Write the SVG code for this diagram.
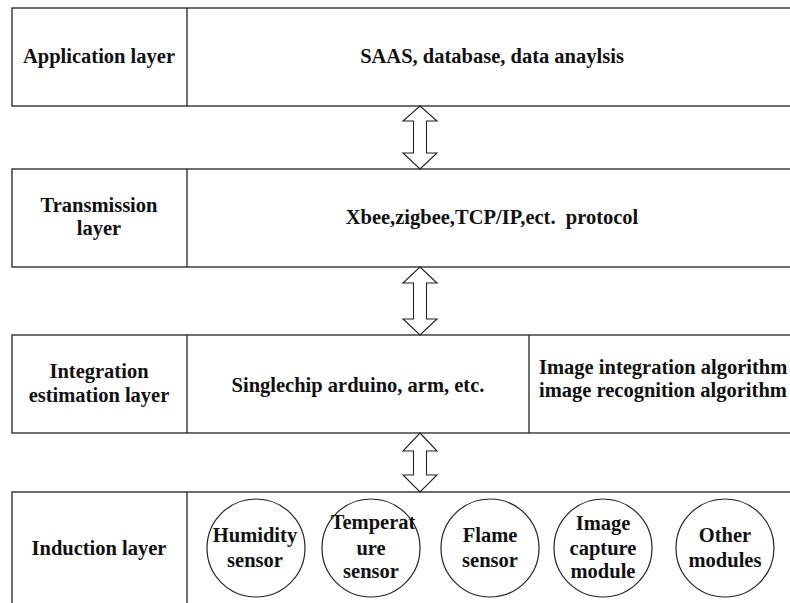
<svg xmlns="http://www.w3.org/2000/svg" width="790" height="603" viewBox="0 0 790 603">
<style>
.box{fill:#fff;stroke:#222;stroke-width:1.3}
.div{stroke:#222;stroke-width:1.3}
.arr{fill:#fff;stroke:#222;stroke-width:1.1;stroke-linejoin:miter}
.c{fill:#fff;stroke:#222;stroke-width:1.2}
.t{font-family:'Liberation Serif','Times New Roman',Times,serif;font-weight:700;font-size:20.5px;fill:#111;text-anchor:middle}
.l{text-anchor:start}
</style>
<rect width="790" height="603" fill="#fff"/>
<g class="t">
<g id="application-layer">
<rect class="box" x="12" y="8" width="790" height="98"/>
<line class="div" x1="187" y1="8" x2="187" y2="106"/>
<text x="99" y="63">Application layer</text>
<text x="492" y="63">SAAS, database, data anaylsis</text>
</g>
<g id="transmission-layer">
<rect class="box" x="12" y="169" width="790" height="98"/>
<line class="div" x1="187" y1="169" x2="187" y2="267"/>
<text x="99" y="212">Transmission</text>
<text x="99" y="235">layer</text>
<text x="492" y="224">Xbee,zigbee,TCP/IP,ect.&#160; protocol</text>
</g>
<g id="integration-layer">
<rect class="box" x="12" y="335" width="790" height="98"/>
<line class="div" x1="187" y1="335" x2="187" y2="433"/>
<line class="div" x1="529" y1="335" x2="529" y2="433"/>
<text x="99" y="378">Integration</text>
<text x="99" y="402">estimation layer</text>
<text x="358" y="392">Singlechip arduino, arm, etc.</text>
<text class="l" x="539" y="374">Image integration algorithm</text>
<text class="l" x="539" y="397">image recognition algorithm</text>
</g>
<g id="induction-layer">
<rect class="box" x="12" y="492" width="790" height="120"/>
<line class="div" x1="187" y1="492" x2="187" y2="612"/>
<text x="99" y="555">Induction layer</text>
</g>
<g id="humidity-sensor">
<circle class="c" cx="256" cy="548" r="49"/>
<text x="255" y="542">Humidity</text>
<text x="255" y="567">sensor</text>
</g>
<g id="temperature-sensor">
<circle class="c" cx="371" cy="548" r="49"/>
<text x="373" y="529">Temperat</text>
<text x="371" y="555">ure</text>
<text x="371" y="578">sensor</text>
</g>
<g id="flame-sensor">
<circle class="c" cx="490" cy="548" r="49"/>
<text x="490" y="542">Flame</text>
<text x="490" y="567">sensor</text>
</g>
<g id="image-capture-module">
<circle class="c" cx="603" cy="548" r="49"/>
<text x="603" y="530">Image</text>
<text x="603" y="555">capture</text>
<text x="603" y="578">module</text>
</g>
<g id="other-modules">
<circle class="c" cx="725" cy="548" r="49"/>
<text x="725" y="542">Other</text>
<text x="725" y="567">modules</text>
</g>
</g>
<g id="connectors">
<polygon class="arr" points="420,106 437,121 426.5,121 426.5,153 437,153 420,169 403,153 413.5,153 413.5,121 403,121"/>
<polygon class="arr" points="420,267 437,283 426.5,283 426.5,319 437,319 420,335 403,319 413.5,319 413.5,283 403,283"/>
<polygon class="arr" points="420,433 437,451 426.5,451 426.5,475 437,475 420,492 403,475 413.5,475 413.5,451 403,451"/>
</g>
</svg>
